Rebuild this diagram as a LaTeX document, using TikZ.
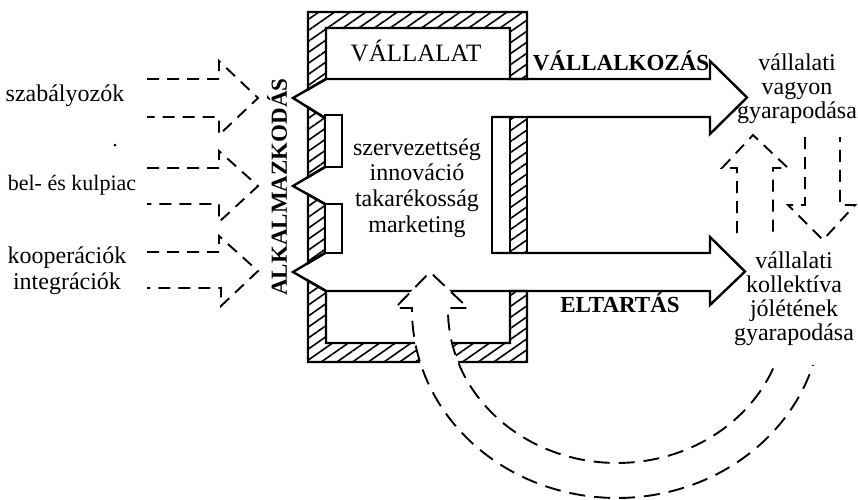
\documentclass[tikz,border=0pt]{standalone}
\usepackage{fontspec}
\setmainfont{Liberation Serif}
\usetikzlibrary{patterns.meta}
\begin{document}
\begin{tikzpicture}[x=0.5pt,y=-0.5pt,
  wall/.style={draw=black, line width=1.2pt, line join=miter,
    pattern={Lines[angle=35,distance=4.5pt,line width=0.8pt]}},
  sline/.style={draw=black, line width=1.2pt, line join=miter},
  dline/.style={draw=black, line width=0.95pt, dash pattern=on 6pt off 4pt},
  cline/.style={draw=black, line width=0.95pt, dash pattern=on 8pt off 4.5pt},
  lbl/.style={font=\fontsize{12}{14}\selectfont, inner sep=0pt, anchor=base},
  blbl/.style={font=\bfseries\fontsize{11.5}{14}\selectfont, inner sep=0pt, anchor=base}]
\useasboundingbox (0,0) rectangle (858,499);

% hatched frame
\draw[wall] (308,89.4) -- (308,12) -- (527,12) -- (527,79) -- (510,79) -- (510,28) -- (326,28) -- (326,79) -- cycle;
\draw[wall] (308,107.4) -- (325,118) -- (325,167) -- (308,177.1) -- cycle;
\draw[wall] (308,194.4) -- (325,204) -- (325,253) -- (308,263.1) -- cycle;
\draw[wall] (308,280.6) -- (326,291) -- (326,343) -- (510,343) -- (510,291) -- (527,291) -- (527,362) -- (308,362) -- cycle;
\draw[wall] (510,117) rectangle (527,253);
% white strips
\draw[sline, fill=white] (492,117) rectangle (510,253);
\draw[sline, fill=white] (325,115) rectangle (342,167);
\draw[sline, fill=white] (325,204) rectangle (342,253);

% solid arrows
\draw[sline] (326,79) -- (293,98) -- (325,118);
\draw[sline] (326,79) -- (710,79) -- (710,61) -- (747,97.5) -- (710,134) -- (710,117) -- (492,117);
\draw[sline] (325,167) -- (293,186) -- (325,204);
\draw[sline] (325,253) -- (293,272) -- (326,291) -- (710,291) -- (710,305) -- (745,271.5) -- (710,237) -- (710,253) -- (492,253);

% dashed input arrows
\draw[dline] (147,79) -- (219,79) -- (219,61) -- (258,98) -- (219,135) -- (219,117) -- (147,117);
\draw[dline] (147,168) -- (219,168) -- (219,151) -- (258,186) -- (219,222) -- (219,204) -- (147,204);
\draw[dline] (147,252) -- (219,252) -- (219,236) -- (258,271) -- (221,306) -- (221,288) -- (147,288);

% vertical dashed arrows
\draw[dline] (737,233) -- (737,168) -- (722,168) -- (753,135) -- (788,168) -- (773,168) -- (773,233);
\draw[dline] (805,137) -- (805,205) -- (788,205) -- (823,240) -- (855,205) -- (840,205) -- (840,137);

% curved arrow
\fill[white] plot[domain=22.5:180, samples=80] ({617+169*cos(\x)},{310+153*sin(\x)})
  -- (448,308) -- (468,308) -- (430,272) -- (395,308) -- (412,308)
  -- plot[domain=180:17, samples=80] ({617+205*cos(\x)},{310+188*sin(\x)}) -- cycle;
\draw[cline] plot[domain=22.5:180, samples=80] ({617+169*cos(\x)},{310+153*sin(\x)})
  -- (448,308) -- (468,308) -- (430,272) -- (395,308) -- (412,308)
  -- plot[domain=180:17, samples=80] ({617+205*cos(\x)},{310+188*sin(\x)});

\fill (115,145) circle (1.5);

% texts
\node[lbl, font=\fontsize{12.5}{14}\selectfont] (vall) at (416,61) {VÁLLALAT};
\node[blbl] (vk) at (621,70) {VÁLLALKOZÁS};
\node[blbl] (elt) at (620,312) {ELTARTÁS};
\node[blbl, anchor=center, rotate=90] (alk) at (277,187) {ALKALMAZKODÁS};

\node[lbl] (c1) at (417,155) {szervezettség};
\node[lbl] (c2) at (417,180) {innováció};
\node[lbl] (c3) at (417,206) {takarékosság};
\node[lbl] (c4) at (417,232) {marketing};

\node[lbl] (l1) at (65,101) {szabályozók};
\node[lbl, font=\fontsize{11}{14}\selectfont] (l2) at (72,190) {bel- és kulpiac};
\node[lbl] (l3) at (67,263) {kooperációk};
\node[lbl] (l4) at (67,289) {integrációk};

\node[lbl] (r1) at (797,70) {vállalati};
\node[lbl] (r2) at (797,94) {vagyon};
\node[lbl] (r3) at (797,118) {gyarapodása};

\node[lbl] (s1) at (794,268) {vállalati};
\node[lbl] (s2) at (794,292) {kollektíva};
\node[lbl] (s3) at (794,316) {jólétének};
\node[lbl] (s4) at (794,340) {gyarapodása};
\end{tikzpicture}
\end{document}
